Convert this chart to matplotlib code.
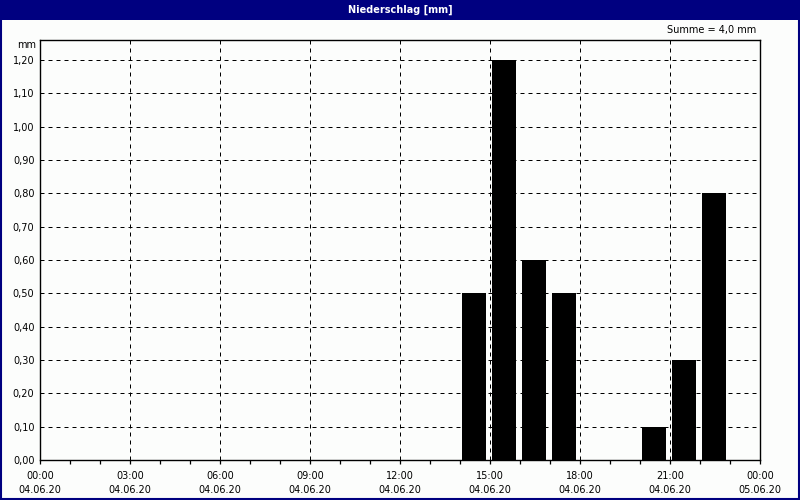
import matplotlib
matplotlib.use("Agg")
import matplotlib.pyplot as plt
from matplotlib.patches import Rectangle
from matplotlib.ticker import MultipleLocator, FixedLocator

# hourly precipitation, bar starts at the given hour
hours = [14, 15, 16, 17, 20, 21, 22]
values = [0.5, 1.2, 0.6, 0.5, 0.1, 0.3, 0.8]

tick_hours = [0, 3, 6, 9, 12, 15, 18, 21, 24]
tick_labels = ["00:00\n04.06.20", "03:00\n04.06.20", "06:00\n04.06.20",
               "09:00\n04.06.20", "12:00\n04.06.20", "15:00\n04.06.20",
               "18:00\n04.06.20", "21:00\n04.06.20", "00:00\n05.06.20"]
y_ticks = [0.0, 0.1, 0.2, 0.3, 0.4, 0.5, 0.6, 0.7, 0.8, 0.9, 1.0, 1.1, 1.2]

navy = "#000080"
bg = "#fcfdfc"
fs = 7

fig = plt.figure(figsize=(8, 5), dpi=100, facecolor=bg)

# title bar and frame
fig.patches.append(Rectangle((0, 0.96), 1, 0.04, transform=fig.transFigure,
                             facecolor=navy, edgecolor="none", zorder=0))
fig.patches.append(Rectangle((0.001, 0.002), 0.998, 0.996, transform=fig.transFigure,
                             facecolor="none", edgecolor=navy, linewidth=1.5, zorder=5))
fig.text(0.5, 0.98, "Niederschlag [mm]", color="white", fontsize=fs,
         fontweight="bold", ha="center", va="center")

ax = fig.add_axes([0.05, 0.08, 0.90, 0.84])
ax.set_facecolor(bg)

ax.bar([h + 0.07 for h in hours], values, width=0.8, align="edge",
       color="black", zorder=3)

ax.set_xlim(0, 24)
ax.set_ylim(0, 1.26)

ax.xaxis.set_major_locator(FixedLocator(tick_hours))
ax.xaxis.set_minor_locator(MultipleLocator(1))
ax.set_xticklabels(tick_labels, fontsize=fs, linespacing=1.45)
ax.set_yticks(y_ticks)
ax.set_yticklabels(["{:.2f}".format(v).replace(".", ",") for v in y_ticks], fontsize=fs)

ax.tick_params(axis="x", which="both", direction="out", length=3, width=0.9, pad=5)
ax.tick_params(axis="y", which="both", length=0, pad=4)

ax.grid(True, which="major", color="black", linestyle=(0, (4, 4)), linewidth=0.72, zorder=1)

for s in ax.spines.values():
    s.set_linewidth(1.0)
    s.set_color("black")

ax.text(-0.006, 1.245, "mm", transform=ax.get_yaxis_transform(), fontsize=fs,
        ha="right", va="center")
ax.text(0.995, 1.025, "Summe = {:.1f} mm".format(sum(values)).replace(".", ","),
        transform=ax.transAxes, fontsize=fs, ha="right", va="center")

fig.savefig("out.png", dpi=100, facecolor=fig.get_facecolor())
